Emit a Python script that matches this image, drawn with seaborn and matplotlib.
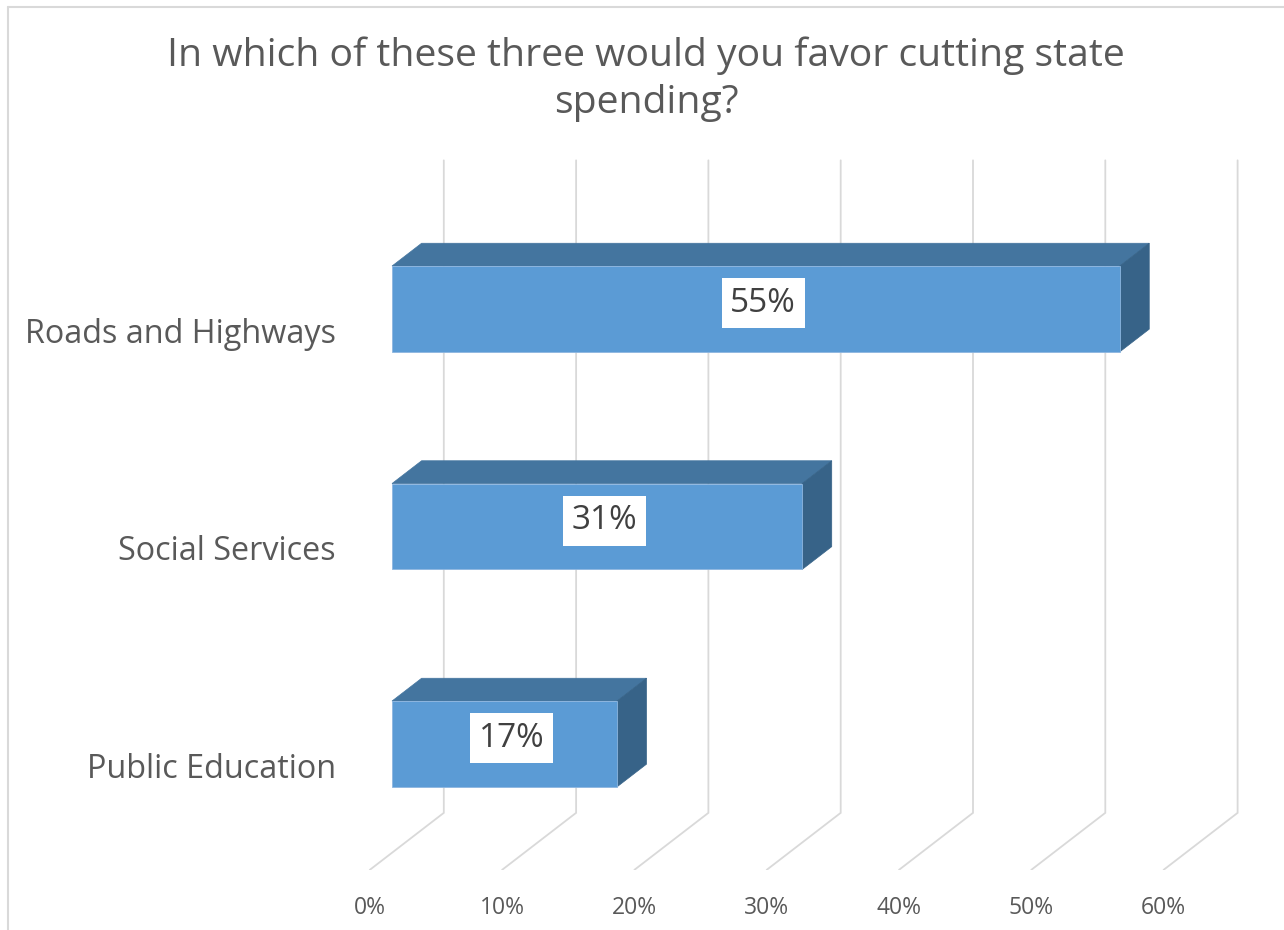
import numpy as np
import pandas as pd
import matplotlib
matplotlib.use("Agg")
import matplotlib.pyplot as plt
import seaborn as sns
from matplotlib.patches import Polygon
from matplotlib.lines import Line2D

# Survey answers
categories = ["Roads and Highways", "Social Services", "Public Education"]
shares = [55, 31, 17]
tick_values = [0, 10, 20, 30, 40, 50, 60]
tick_labels = ["0%", "10%", "20%", "30%", "40%", "50%", "60%"]
bar_labels = ["55%", "31%", "17%"]
title = "In which of these three would you favor cutting state\nspending?"

sns.set_theme(style="white")
plt.rcParams["font.family"] = ["Open Sans", "DejaVu Sans"]

TEXT = "#595959"
GRID = "#D9D9D9"
FRONT = "#5B9BD5"
TOP = "#44759F"
SIDE = "#376388"

W, H = 1284, 930
fig = plt.figure(figsize=(W / 100, H / 100), dpi=100)

# Layout of the plotting area (pixels per percent / per category row)
X0, SX = 392.0, 13.23
Y0, SY = 309.0, 217.5
xlim = (-3.0, 66.0)
ylim = (2.579, -0.8)
left = X0 + SX * xlim[0]
right = X0 + SX * xlim[1]
top = Y0 + SY * ylim[1]
bottom = Y0 + SY * ylim[0]
ax = fig.add_axes([left / W, 1 - bottom / H, (right - left) / W, (bottom - top) / H])

# Oblique depth offsets (full depth of the floor) in data units
DX = 74.0 / SX
DY = 57.0 / SY
D_FRONT, D_BACK = 0.3, 0.7


def proj(v, c, d):
    return v + (d - D_FRONT) * DX, c - (d - D_FRONT) * DY


# Back wall and floor grid
for t in tick_values:
    p0 = proj(t, 2.5, 0.0)
    p1 = proj(t, 2.5, 1.0)
    p2 = proj(t, -0.5, 1.0)
    ax.plot([p0[0], p1[0], p2[0]], [p0[1], p1[1], p2[1]],
            color=GRID, lw=1.3, zorder=0, solid_joinstyle="miter")

df = pd.DataFrame({"category": categories, "share": shares})
sns.barplot(data=df, x="share", y="category", orient="h", width=0.395,
            color=FRONT, saturation=1, edgecolor="#8DB6E0", linewidth=0.6,
            ax=ax, zorder=3)

depth = (D_BACK - D_FRONT)
for patch, lab in zip(ax.patches, bar_labels):
    x0 = patch.get_x()
    w = patch.get_width()
    y0 = patch.get_y()
    h = patch.get_height()
    ox, oy = depth * DX, -depth * DY
    top_face = [(x0, y0), (x0 + w, y0), (x0 + w + ox, y0 + oy), (x0 + ox, y0 + oy)]
    side_face = [(x0 + w, y0), (x0 + w, y0 + h), (x0 + w + ox, y0 + h + oy), (x0 + w + ox, y0 + oy)]
    ax.add_patch(Polygon(top_face, closed=True, facecolor=TOP, edgecolor=TOP, lw=0.5, zorder=2))
    ax.add_patch(Polygon(side_face, closed=True, facecolor=SIDE, edgecolor=SIDE, lw=0.5, zorder=2))
    # value label sits near the middle of the bar's depth
    lx, ly = proj(x0 + w / 2, y0 + h / 2, 0.4)
    ax.text(lx, ly, lab, ha="center", va="center", fontsize=24,
            color="#404040", zorder=5,
            bbox=dict(boxstyle="square,pad=0.26", facecolor="white", edgecolor="none"))

ax.set_xlim(*xlim)
ax.set_ylim(*ylim)
ax.set_xticks(np.array(tick_values) - D_FRONT * DX, tick_labels)
ax.set_yticks(np.arange(len(categories)) + 0.097, categories)
ax.tick_params(axis="x", length=0, pad=19, labelsize=16.5, labelcolor=TEXT)
ax.tick_params(axis="y", length=0, pad=12, labelsize=23.3, labelcolor=TEXT)
ax.set_xlabel("")
ax.set_ylabel("")
for s in ax.spines.values():
    s.set_visible(False)
ax.patch.set_alpha(0)

fig.text(646 / W, 1 - 79 / H, title, ha="center", va="center", fontsize=28.2,
         color=TEXT, linespacing=1.3)

# Chart frame
fig.add_artist(Line2D([8 / W, 8 / W], [0, 1 - 7 / H], color=GRID, lw=1.5))
fig.add_artist(Line2D([8 / W, 1], [1 - 7 / H, 1 - 7 / H], color=GRID, lw=1.5))

fig.savefig("out.png", dpi=100, facecolor="white")
